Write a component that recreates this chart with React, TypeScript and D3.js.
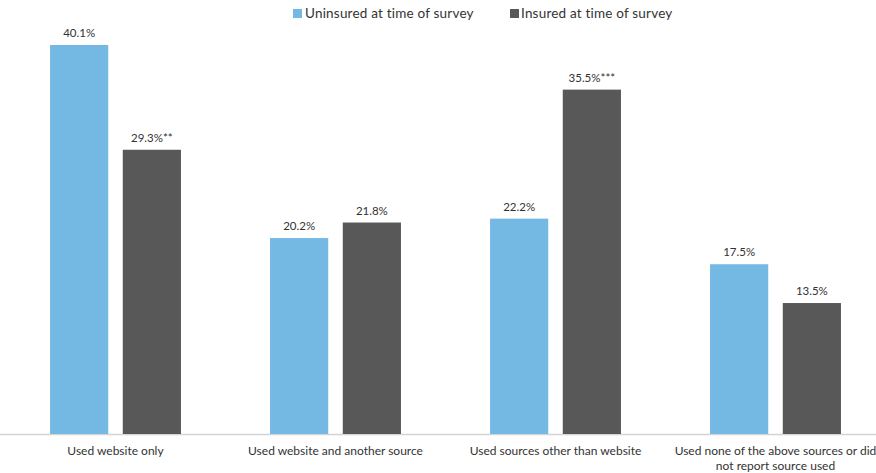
import React from "react";
import * as d3 from "d3";

const categories = [
  ["Used website only"],
  ["Used website and another source"],
  ["Used sources other than website"],
  ["Used none of the above sources or did", "not report source used"],
];
const seriesNames = ["Uninsured at time of survey", "Insured at time of survey"];
const uninsured = [40.1, 20.2, 22.2, 17.5];
const insured = [29.3, 21.8, 35.5, 13.5];
const uninsuredLabels = ["40.1%", "20.2%", "22.2%", "17.5%"];
const insuredLabels = ["29.3%**", "21.8%", "35.5%***", "13.5%"];
const colors = ["#74B9E4", "#585858"];

const W = 876;
const H = 473;
const FONT = "'Lato', 'Open Sans', sans-serif";

export default function App() {
  const x0 = d3.scaleBand<number>().domain(d3.range(categories.length)).range([5.5, 885.5]).paddingInner(0.405).paddingOuter(0.2025);
  const x1 = d3.scaleBand<number>().domain([0, 1]).range([0, x0.bandwidth()]).paddingInner(0.2);
  const y = d3.scaleLinear().domain([0, 40.1]).range([434, 45]);
  const series = [uninsured, insured];
  const labels = [uninsuredLabels, insuredLabels];

  return (
    <svg width={W} height={H} style={{ position: "absolute", left: 0, top: 0 }} fontFamily={FONT}>
      <rect width={W} height={H} fill="#fff" />
      <line x1={0} x2={W} y1={434.5} y2={434.5} stroke="#d4d4d4" strokeWidth={1.5} />
      {categories.map((_, i) =>
        series.map((s, j) => {
          const bx = (x0(i) as number) + (x1(j) as number);
          const by = y(s[i]);
          return (
            <g key={`${i}-${j}`}>
              <rect x={bx} y={by} width={x1.bandwidth()} height={y(0) - by} fill={colors[j]} />
              <text x={bx + x1.bandwidth() / 2} y={by - 8} textAnchor="middle" fontSize={11.5} fill="#333">
                {labels[j][i]}
              </text>
            </g>
          );
        })
      )}
      {categories.map((lines, i) => (
        <text key={i} textAnchor="middle" fontSize={12} fill="#333">
          {lines.map((l, k) => (
            <tspan key={k} x={(x0(i) as number) + x0.bandwidth() / 2} y={455 + k * 15}>
              {l}
            </tspan>
          ))}
        </text>
      ))}
      <g>
        <rect x={293} y={9} width={9} height={9} fill={colors[0]} />
        <text x={305} y={18} fontSize={13.5} letterSpacing={0.2} fill="#333">{seriesNames[0]}</text>
        <rect x={510} y={9} width={9} height={9} fill={colors[1]} />
        <text x={521} y={18} fontSize={13.5} letterSpacing={0.2} fill="#333">{seriesNames[1]}</text>
      </g>
    </svg>
  );
}
